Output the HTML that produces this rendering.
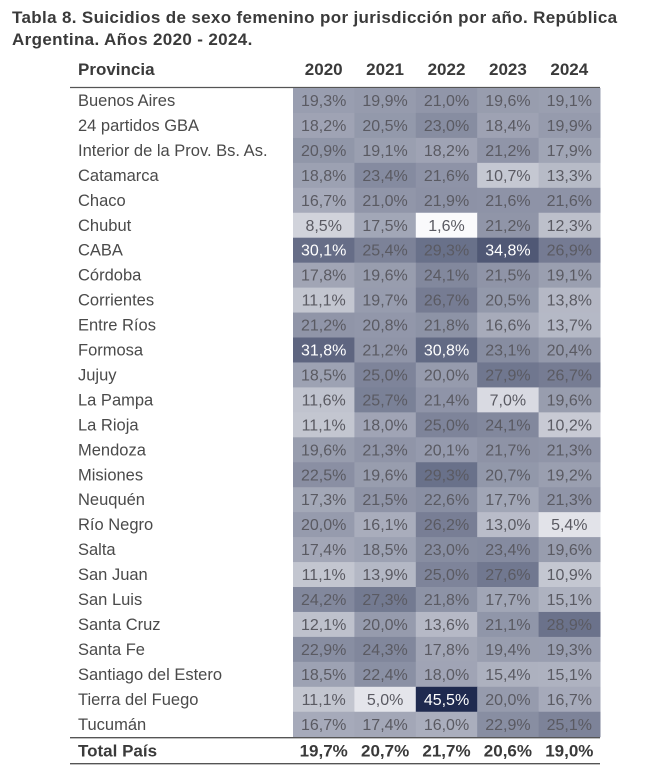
<!DOCTYPE html>
<html><head><meta charset="utf-8"><style>
body{margin:0;width:667px;height:767px;background:#fff;font-family:"Liberation Sans",sans-serif;position:relative;overflow:hidden}
#title{position:absolute;left:12px;top:7px;font-weight:bold;font-size:17px;letter-spacing:0.35px;line-height:22px;color:#3a3a3a;width:665px;white-space:nowrap}
svg{position:absolute;left:0;top:0}
</style></head><body>
<div id="title">Tabla 8. Suicidios de sexo femenino por jurisdicción por año. República<br>Argentina. Años 2020 - 2024.</div>
<svg id="chart" width="667" height="767"></svg>
<script>
const years=["2020","2021","2022","2023","2024"];
const provinces=["Buenos Aires","24 partidos GBA","Interior de la Prov. Bs. As.","Catamarca","Chaco","Chubut","CABA","Córdoba","Corrientes","Entre Ríos","Formosa","Jujuy","La Pampa","La Rioja","Mendoza","Misiones","Neuquén","Río Negro","Salta","San Juan","San Luis","Santa Cruz","Santa Fe","Santiago del Estero","Tierra del Fuego","Tucumán"];
const v2020=[19.3,18.2,20.9,18.8,16.7,8.5,30.1,17.8,11.1,21.2,31.8,18.5,11.6,11.1,19.6,22.5,17.3,20.0,17.4,11.1,24.2,12.1,22.9,18.5,11.1,16.7];
const v2021=[19.9,20.5,19.1,23.4,21.0,17.5,25.4,19.6,19.7,20.8,21.2,25.0,25.7,18.0,21.3,19.6,21.5,16.1,18.5,13.9,27.3,20.0,24.3,22.4,5.0,17.4];
const v2022=[21.0,23.0,18.2,21.6,21.9,1.6,29.3,24.1,26.7,21.8,30.8,20.0,21.4,25.0,20.1,29.3,22.6,26.2,23.0,25.0,21.8,13.6,17.8,18.0,45.5,16.0];
const v2023=[19.6,18.4,21.2,10.7,21.6,21.2,34.8,21.5,20.5,16.6,23.1,27.9,7.0,24.1,21.7,20.7,17.7,13.0,23.4,27.6,17.7,21.1,19.4,15.4,20.0,22.9];
const v2024=[19.1,19.9,17.9,13.3,21.6,12.3,26.9,19.1,13.8,13.7,20.4,26.7,19.6,10.2,21.3,19.2,21.3,5.4,19.6,10.9,15.1,28.9,19.3,15.1,16.7,25.1];
const totals=[19.7,20.7,21.7,20.6,19.0];
const series=[v2020,v2021,v2022,v2023,v2024];
const svg=document.getElementById('chart');const NS="http://www.w3.org/2000/svg";
const x0=293,cw=61.4,y0=88,rh=24.95,labelX=78;
const xPos=i=>x0+i*cw, yPos=j=>y0+j*rh;
const fmt=v=>v.toFixed(1).replace('.',',')+'%';
const vmin=1.6,vmax=45.5;
function color(v){let t=Math.max(0,Math.min(1,(v-vmin)/(vmax-vmin)));
 const a=[250,250,252],b=[31,42,79];
 return `rgb(${a.map((c,k)=>Math.round(c+(b[k]-c)*Math.pow(t,0.9))).join(',')})`;}
function el(tag,attrs,text){const e=document.createElementNS(NS,tag);for(const k in attrs)e.setAttribute(k,attrs[k]);if(text!=null)e.textContent=text;svg.appendChild(e);return e;}
let h=el('text',{x:labelX,y:75,'font-size':17,'font-weight':'bold',fill:'#3a3a3a'},'Provincia');


years.forEach((y,i)=>{const t=el('text',{x:xPos(i)+cw/2,y:75,'font-size':17,'font-weight':'bold',fill:'#3a3a3a','text-anchor':'middle'},y);

});
let l=el('line',{x1:70,x2:600,y1:87.5,y2:87.5,stroke:'#555','stroke-width':1.3});


provinces.forEach((p,j)=>{
 const t=el('text',{x:labelX,y:yPos(j)+18,'font-size':16.5,fill:'#4a4a4a'},p);
 
 
 series.forEach((s,i)=>{const v=s[j];
  const r=el('rect',{x:xPos(i),y:yPos(j),width:cw+0.5,height:rh+0.5,fill:color(v)});
  
  
  const tt=el('text',{x:xPos(i)+cw/2,y:yPos(j)+18,'font-size':16,'text-anchor':'middle',fill:v>29.9?'#fff':'#5a5a62'},fmt(v));
  
  
 });
});
const yt=yPos(provinces.length);
let l2=el('line',{x1:70,x2:600,y1:yt+1,y2:yt+1,stroke:'#555','stroke-width':1.3});


let l3=el('line',{x1:70,x2:600,y1:yt+27,y2:yt+27,stroke:'#555','stroke-width':1.3});


let tl=el('text',{x:labelX,y:yt+20,'font-size':17,'font-weight':'bold',fill:'#3a3a3a'},'Total País');


totals.forEach((v,i)=>{const t=el('text',{x:xPos(i)+cw/2,y:yt+20,'font-size':17,'font-weight':'bold','text-anchor':'middle',fill:'#3a3a3a'},fmt(v));

});
</script>
</body></html>
